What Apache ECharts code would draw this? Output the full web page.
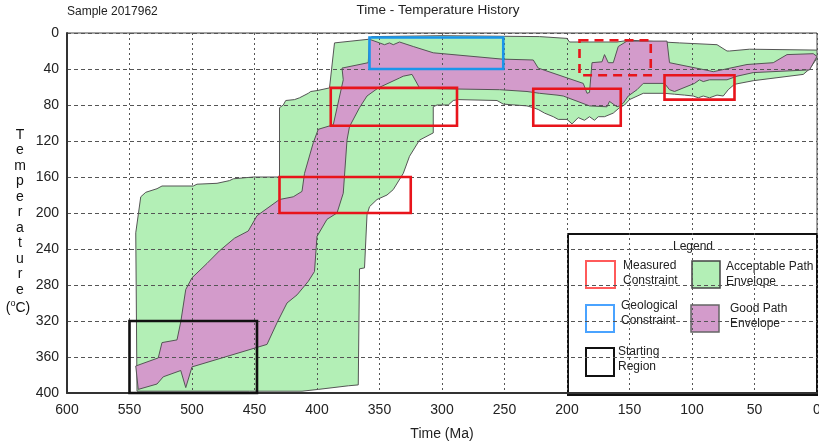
<!DOCTYPE html>
<html><head><meta charset="utf-8">
<script src="https://cdn.jsdelivr.net/npm/echarts@6/dist/echarts.min.js"></script>
<style>html,body{margin:0;padding:0;background:#fff}#c{width:819px;height:441px}</style>
</head><body><div id="c"></div>
<script>
// Envelope outlines: [age (Ma), temperature (°C)]
const acceptableEnvelope = [[544,398],[545,222],[541,182],[537,177],[528,173],[524,170],[499,170],[496,168],[480,167],[470,164],[467,162],[451,160],[430,160],[430,83],[427,80],[425,75],[418,74],[414,72],[407,67],[405,65],[400,64],[390,61],[386,11],[359,7],[356,4],[300,3],[222,4],[200,6],[198,10],[160,10],[150,8],[110,11],[80,13],[72,20],[70,20],[54,18],[0,19],[0,28],[6,40],[11,46],[51,53],[66,57],[71,63],[75,70],[80,69],[86,72],[91,70],[95,72],[99,70],[106,69],[114,68],[122,67],[139,67],[150,74],[154,80],[158,83],[163,89],[170,93],[175,93],[178,97],[182,93],[186,97],[191,94],[196,101],[200,96],[207,96],[211,93],[218,89],[223,85],[227,83],[232,81],[251,79],[256,75],[287,74],[291,75],[295,80],[304,80],[307,82],[307,111],[318,119],[326,137],[331,156],[339,174],[344,180],[352,185],[358,193],[360,202],[362,261],[366,262],[367,391],[375,392],[399,396],[412,398],[454,398]];
const goodEnvelope = [[545,370],[527,361],[524,344],[512,341],[509,321],[505,285],[500,272],[488,256],[478,242],[466,228],[455,220],[448,203],[444,199],[430,185],[419,182],[412,176],[410,156],[403,122],[399,107],[387,102],[379,52],[380,39],[359,33],[358,7],[350,11],[346,13],[342,11],[339,13],[334,10],[323,15],[307,22],[252,29],[227,30],[223,39],[187,56],[184,67],[182,66],[180,33],[172,32],[170,24],[167,33],[163,33],[159,15],[152,9],[120,9],[118,33],[86,42],[83,43],[56,35],[35,33],[24,24],[3,23],[0,26],[6,41],[51,44],[64,48],[72,52],[86,52],[91,54],[94,52],[98,56],[114,65],[118,63],[122,56],[139,56],[144,63],[151,70],[155,78],[158,81],[160,82],[166,76],[168,82],[182,81],[203,70],[208,69],[222,67],[232,65],[254,63],[299,62],[318,61],[324,46],[331,48],[334,50],[351,61],[360,70],[366,83],[374,104],[376,119],[379,178],[384,200],[392,207],[400,226],[402,265],[407,276],[416,291],[424,300],[432,322],[440,346],[500,371],[505,394],[509,375],[523,382],[528,390],[543,396]];
// Boxes: [older age, younger age, min temp, max temp]
const measuredBoxes = [[389,288,61,103],[430,325,160,200],[227,157,62,103],[122,66,47,74]];
const measuredDashedBoxes = [[190,133,8,47]];
const geologicalBoxes = [[358,251,5,40]];
const startBoxes = [[550,448,320,400]];

const FONT = "'Liberation Sans', Arial, sans-serif";

function boxPts(b){ return [[b[0],b[2]],[b[1],b[2]],[b[1],b[3]],[b[0],b[3]]]; }

function polySeries(pts, style, z, clip){
  return {
    type:'custom', coordinateSystem:'cartesian2d', silent:true, z:z, clip:clip,
    data:[pts[0]],
    renderItem:function(params, api){
      return {type:'polygon', shape:{points:pts.map(function(p){return api.coord(p);})}, style:style};
    }
  };
}

const series = [];
series.push(polySeries(acceptableEnvelope, {fill:'#b3efb6', stroke:'#555', lineWidth:1}, 2, true));
series.push(polySeries(goodEnvelope, {fill:'#d39bcb', stroke:'#555', lineWidth:1}, 3, true));
measuredBoxes.forEach(function(b){ series.push(polySeries(boxPts(b), {fill:'none', stroke:'#e8141b', lineWidth:2.6}, 10, false)); });
measuredDashedBoxes.forEach(function(b){ series.push(polySeries(boxPts(b), {fill:'none', stroke:'#e8141b', lineWidth:2.6, lineDash:[9,6]}, 10, false)); });
geologicalBoxes.forEach(function(b){ series.push(polySeries(boxPts(b), {fill:'none', stroke:'#1b95ea', lineWidth:2.6}, 10, false)); });
startBoxes.forEach(function(b){ series.push(polySeries(boxPts(b), {fill:'none', stroke:'#111', lineWidth:2.6}, 10, false)); });

const chart = echarts.init(document.getElementById('c'), null, {renderer:'canvas'});
const tStyle = {fontFamily:FONT, fontSize:12, fill:'#222'};
chart.setOption({
  animation:false,
  backgroundColor:'#fff',
  grid:{left:67, right:2, top:33, bottom:48, show:true, borderColor:'#444', borderWidth:1, containLabel:false, outerBoundsMode:'none'},
  xAxis:{type:'value', min:0, max:600, interval:50, inverse:true, z:5,
    name:'Time (Ma)', nameLocation:'middle', nameGap:34,
    nameTextStyle:{fontFamily:FONT, fontSize:14, color:'#222'},
    axisLine:{show:true, onZero:false, lineStyle:{color:'#333', width:2}},
    axisTick:{show:false},
    axisLabel:{fontFamily:FONT, fontSize:14, color:'#222', margin:10},
    splitLine:{show:true, lineStyle:{color:'#555', width:1, type:[2,3]}}},
  yAxis:{type:'value', min:0, max:400, interval:40, inverse:true, z:5,
    axisLine:{show:true, onZero:false, lineStyle:{color:'#333', width:2}},
    axisTick:{show:false},
    axisLabel:{fontFamily:FONT, fontSize:14, color:'#222', margin:8},
    splitLine:{show:true, lineStyle:{color:'#555', width:1, type:[4,3]}}},
  series:series,
  graphic:[
    {type:'text', x:67, y:12, style:{text:'Sample 2017962', fontFamily:FONT, fontSize:12, fill:'#222', textVerticalAlign:'middle'}},
    {type:'text', x:438, y:10, style:{text:'Time - Temperature History', fontFamily:FONT, fontSize:13.5, fill:'#222', textAlign:'center', textVerticalAlign:'middle'}},
    {type:'text', x:20, y:127, style:{text:'T\ne\nm\np\ne\nr\na\nt\nu\nr\ne', fontFamily:FONT, fontSize:14, lineHeight:15.5, fill:'#111', textAlign:'center', textVerticalAlign:'top'}},
    {type:'text', x:18, y:308, style:{text:'({s|o}C)', fontFamily:FONT, fontSize:14, fill:'#111', textAlign:'center', textVerticalAlign:'middle',
      rich:{s:{fontFamily:FONT, fontSize:9, verticalAlign:'top', padding:[0,0,8,0]}}}},
    {type:'group', z:100, children:[
      {type:'rect', shape:{x:568, y:234, width:249, height:161}, style:{fill:'#fff', stroke:'#111', lineWidth:2}},
      {type:'text', x:693, y:247, style:Object.assign({}, tStyle, {text:'Legend', textAlign:'center', textVerticalAlign:'middle'})},
      {type:'rect', shape:{x:586, y:261, width:29, height:27}, style:{fill:'#fff', stroke:'#ff5a5a', lineWidth:2}},
      {type:'text', x:623, y:258.5, style:Object.assign({}, tStyle, {text:'Measured\nConstraint', lineHeight:15, textVerticalAlign:'top'})},
      {type:'rect', shape:{x:692, y:261, width:28, height:27}, style:{fill:'#b3efb6', stroke:'#444', lineWidth:1.5}},
      {type:'text', x:726, y:259.5, style:Object.assign({}, tStyle, {text:'Acceptable Path\nEnvelope', lineHeight:15, textVerticalAlign:'top'})},
      {type:'rect', shape:{x:586, y:305, width:28, height:27}, style:{fill:'#fff', stroke:'#4aa3ff', lineWidth:2}},
      {type:'text', x:621, y:298.5, style:Object.assign({}, tStyle, {text:'Geological\nConstraint', lineHeight:15, textVerticalAlign:'top'})},
      {type:'rect', shape:{x:691, y:305, width:28, height:27}, style:{fill:'#d39bcb', stroke:'#666', lineWidth:1.5}},
      {type:'text', x:730, y:301.5, style:Object.assign({}, tStyle, {text:'Good Path\nEnvelope', lineHeight:15, textVerticalAlign:'top'})},
      {type:'rect', shape:{x:586, y:348, width:28, height:28}, style:{fill:'#fff', stroke:'#111', lineWidth:2}},
      {type:'text', x:618, y:344.5, style:Object.assign({}, tStyle, {text:'Starting\nRegion', lineHeight:15, textVerticalAlign:'top'})}
    ]}
  ]
});
</script></body></html>
